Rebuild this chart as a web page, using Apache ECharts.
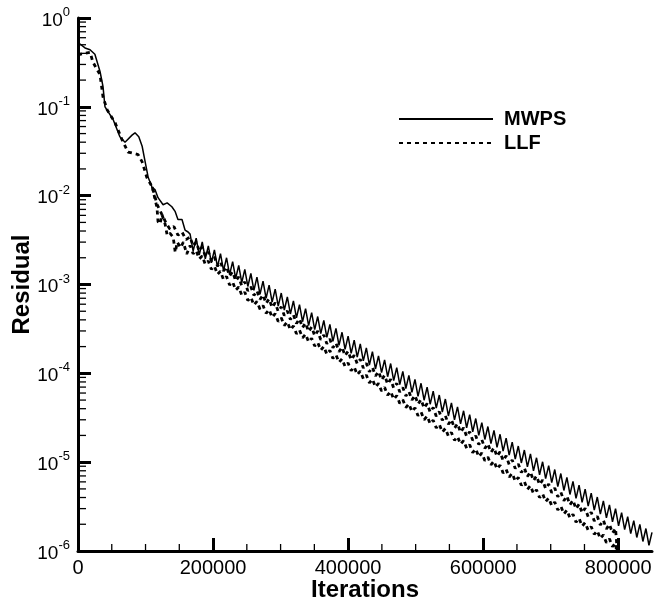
<!DOCTYPE html>
<html><head><meta charset="utf-8">
<script src="https://cdn.jsdelivr.net/npm/echarts@6/dist/echarts.min.js"></script>
<style>html,body{margin:0;padding:0;background:#fff}#c{width:655px;height:601px}</style>
</head><body><div id="c"></div>
<script>
// ---- data ----
const xTickValues = [0, 200000, 400000, 600000, 800000];
const xMinorTickValues = [50000,100000,150000,250000,300000,350000,450000,500000,550000,650000,700000,750000];
const yDecades = [1e-6, 1e-5, 1e-4, 1e-3, 1e-2, 1e-1];
const yMinorMultipliers = [2,3,4,5,6,7,8,9];

const mwpsEarlyIter = [0,10400,17800,25000,32600,37000,40000,52000,62000,69600,80000,84400,90000,95000,99000,104000,110000,114000,118500,126000,132000,139000,144000,148000,154000,158500,163000];
const mwpsEarlyVal  = [0.53,0.46,0.44,0.39,0.25,0.17,0.10,0.072,0.046,0.040,0.048,0.051,0.046,0.036,0.025,0.016,0.0123,0.0117,0.0095,0.0079,0.0083,0.0075,0.0066,0.0054,0.0054,0.0041,0.0039];

const llfEarlyIter = [0,3000,18000,22000,32600,37000,43000,55000,65000,74000,81500,89000,95000,102000,110000];
const llfEarlyVal  = [0.39,0.39,0.41,0.32,0.23,0.13,0.093,0.066,0.043,0.031,0.030,0.029,0.024,0.016,0.0125];
const llfAMidIter = [117000,124000,130000,136000,142000,148000,154000,160000];
const llfAMidVal  = [0.0080,0.0062,0.0050,0.0042,0.0045,0.0036,0.0039,0.0032];
const llfBEarlyIter = [110000,117000,118500,121500,124400,129000,132000,136000,141000,144000,147000,152000,156000,161000];
const llfBEarlyVal  = [0.0125,0.0073,0.0051,0.0048,0.0061,0.0048,0.0036,0.0038,0.0034,0.0023,0.0030,0.0026,0.0030,0.0022];
const llfTailIter = [799000];
const llfATailVal = [9e-7];
const llfBTailVal = [8e-7];

const oscIter = [
166000,170500,175000,179500,184000,188500,193000,197500,202000,206500,
211000,215500,220000,224500,229000,233500,238000,242500,247000,251500,
256000,260500,265000,269500,274000,278500,283000,287500,292000,296500,
301000,305500,310000,314500,319000,323500,328000,332500,337000,341500,
346000,350500,355000,359500,364000,368500,373000,377500,382000,386500,
391000,395500,400000,404500,409000,413500,418000,422500,427000,431500,
436000,440500,445000,449500,454000,458500,463000,467500,472000,476500,
481000,485500,490000,494500,499000,503500,508000,512500,517000,521500,
526000,530500,535000,539500,544000,548500,553000,557500,562000,566500,
571000,575500,580000,584500,589000,593500,598000,602500,607000,611500,
616000,620500,625000,629500,634000,638500,643000,647500,652000,656500,
661000,665500,670000,674500,679000,683500,688000,692500,697000,701500,
706000,710500,715000,719500,724000,728500,733000,737500,742000,746500,
751000,755500,760000,764500,769000,773500,778000,782500,787000,791500,
796000,800500,805000,809500,814000,818500,823000,827500,832000,836500,
841000,845500,850000];

const mwpsOscVal = [
3.69e-3,2.38e-3,3.33e-3,2.15e-3,3.01e-3,1.94e-3,2.72e-3,1.75e-3,2.45e-3,1.58e-3,
2.22e-3,1.43e-3,2.00e-3,1.29e-3,1.81e-3,1.17e-3,1.64e-3,1.05e-3,1.48e-3,9.5e-4,
1.33e-3,8.58e-4,1.21e-3,7.76e-4,1.09e-3,7.01e-4,9.84e-4,6.34e-4,8.87e-4,5.71e-4,
8.02e-4,5.16e-4,7.24e-4,4.66e-4,6.55e-4,4.22e-4,5.92e-4,3.81e-4,5.35e-4,3.44e-4,
4.82e-4,3.11e-4,4.36e-4,2.80e-4,3.94e-4,2.54e-4,3.56e-4,2.29e-4,3.21e-4,2.07e-4,
2.90e-4,1.86e-4,2.62e-4,1.68e-4,2.37e-4,1.52e-4,2.14e-4,1.38e-4,1.93e-4,1.24e-4,
1.75e-4,1.12e-4,1.57e-4,1.02e-4,1.42e-4,9.16e-5,1.29e-4,8.27e-5,1.16e-4,7.48e-5,
1.05e-4,6.75e-5,9.48e-5,6.10e-5,8.55e-5,5.51e-5,7.73e-5,4.98e-5,6.98e-5,4.49e-5,
6.31e-5,4.07e-5,5.70e-5,3.67e-5,5.14e-5,3.31e-5,4.65e-5,2.99e-5,4.20e-5,2.70e-5,
3.79e-5,2.44e-5,3.43e-5,2.20e-5,3.10e-5,2.00e-5,2.79e-5,1.80e-5,2.52e-5,1.62e-5,
2.28e-5,1.47e-5,2.06e-5,1.33e-5,1.86e-5,1.20e-5,1.68e-5,1.08e-5,1.52e-5,9.79e-6,
1.37e-5,8.84e-6,1.24e-5,7.98e-6,1.12e-5,7.21e-6,1.01e-5,6.52e-6,9.14e-6,5.88e-6,
8.26e-6,5.30e-6,7.45e-6,4.80e-6,6.73e-6,4.33e-6,6.08e-6,3.91e-6,5.50e-6,3.53e-6,
4.97e-6,3.20e-6,4.48e-6,2.88e-6,4.05e-6,2.60e-6,3.66e-6,2.36e-6,3.30e-6,2.13e-6,
2.99e-6,1.92e-6,2.70e-6,1.74e-6,2.43e-6,1.57e-6,2.20e-6,1.42e-6,1.99e-6,1.28e-6,
1.79e-6,1.16e-6,1.62e-6];

const llfAOscVal = [
3.43e-3,2.70e-3,3.01e-3,2.38e-3,2.65e-3,2.09e-3,2.33e-3,1.84e-3,2.05e-3,1.61e-3,
1.80e-3,1.42e-3,1.58e-3,1.25e-3,1.39e-3,1.10e-3,1.22e-3,9.64e-4,1.07e-3,8.47e-4,
9.44e-4,7.54e-4,8.51e-4,6.79e-4,7.66e-4,6.12e-4,6.90e-4,5.51e-4,6.22e-4,4.97e-4,
5.60e-4,4.47e-4,5.05e-4,4.03e-4,4.55e-4,3.63e-4,4.10e-4,3.27e-4,3.69e-4,2.95e-4,
3.32e-4,2.65e-4,2.99e-4,2.39e-4,2.70e-4,2.15e-4,2.43e-4,1.94e-4,2.19e-4,1.75e-4,
1.97e-4,1.58e-4,1.78e-4,1.42e-4,1.60e-4,1.28e-4,1.44e-4,1.15e-4,1.30e-4,1.04e-4,
1.17e-4,9.35e-5,1.05e-4,8.42e-5,9.50e-5,7.59e-5,8.56e-5,6.83e-5,7.71e-5,6.16e-5,
6.94e-5,5.55e-5,6.26e-5,5.00e-5,5.64e-5,4.50e-5,5.08e-5,4.06e-5,4.57e-5,3.65e-5,
4.12e-5,3.29e-5,3.71e-5,2.96e-5,3.34e-5,2.67e-5,3.01e-5,2.41e-5,2.71e-5,2.17e-5,
2.44e-5,1.95e-5,2.20e-5,1.76e-5,1.98e-5,1.58e-5,1.79e-5,1.43e-5,1.61e-5,1.29e-5,
1.45e-5,1.16e-5,1.31e-5,1.04e-5,1.18e-5,9.40e-6,1.06e-5,8.47e-6,9.56e-6,7.63e-6,
8.61e-6,6.88e-6,7.76e-6,6.19e-6,6.99e-6,5.58e-6,6.30e-6,5.03e-6,5.67e-6,4.53e-6,
5.11e-6,4.08e-6,4.60e-6,3.67e-6,4.15e-6,3.31e-6,3.73e-6,2.98e-6,3.37e-6,2.69e-6,
3.03e-6,2.42e-6,2.73e-6,2.18e-6,2.46e-6,1.96e-6,2.22e-6,1.77e-6,2.00e-6,1.59e-6,
1.80e-6];

const llfBOscVal = [
2.75e-3,2.22e-3,2.41e-3,1.94e-3,2.10e-3,1.69e-3,1.84e-3,1.48e-3,1.61e-3,1.30e-3,
1.41e-3,1.13e-3,1.23e-3,9.89e-4,1.07e-3,8.65e-4,9.39e-4,7.56e-4,8.21e-4,6.61e-4,
7.18e-4,5.86e-4,6.45e-4,5.27e-4,5.80e-4,4.74e-4,5.22e-4,4.26e-4,4.69e-4,3.83e-4,
4.22e-4,3.45e-4,3.80e-4,3.10e-4,3.41e-4,2.79e-4,3.07e-4,2.51e-4,2.76e-4,2.25e-4,
2.48e-4,2.03e-4,2.23e-4,1.82e-4,2.01e-4,1.64e-4,1.81e-4,1.47e-4,1.62e-4,1.33e-4,
1.46e-4,1.19e-4,1.31e-4,1.07e-4,1.18e-4,9.64e-5,1.06e-4,8.67e-5,9.55e-5,7.80e-5,
8.59e-5,7.01e-5,7.73e-5,6.31e-5,6.95e-5,5.67e-5,6.25e-5,5.10e-5,5.62e-5,4.59e-5,
5.05e-5,4.12e-5,4.54e-5,3.71e-5,4.09e-5,3.34e-5,3.67e-5,3.00e-5,3.30e-5,2.70e-5,
2.97e-5,2.43e-5,2.67e-5,2.18e-5,2.40e-5,1.96e-5,2.16e-5,1.76e-5,1.94e-5,1.59e-5,
1.75e-5,1.43e-5,1.57e-5,1.28e-5,1.41e-5,1.15e-5,1.27e-5,1.04e-5,1.14e-5,9.33e-6,
1.03e-5,8.39e-6,9.24e-6,7.55e-6,8.31e-6,6.79e-6,7.48e-6,6.10e-6,6.72e-6,5.49e-6,
6.05e-6,4.94e-6,5.44e-6,4.44e-6,4.89e-6,3.99e-6,4.40e-6,3.59e-6,3.96e-6,3.23e-6,
3.56e-6,2.90e-6,3.20e-6,2.61e-6,2.88e-6,2.35e-6,2.59e-6,2.11e-6,2.33e-6,1.90e-6,
2.09e-6,1.71e-6,1.88e-6,1.54e-6,1.69e-6,1.38e-6,1.52e-6,1.24e-6,1.37e-6,1.12e-6,
1.23e-6];

// ---- build ----
function pairs(xs, ys){ return ys.map((y, i) => [xs[i], y]); }
const mwpsData = pairs(mwpsEarlyIter, mwpsEarlyVal).concat(pairs(oscIter, mwpsOscVal));
const llfAData = pairs(llfEarlyIter, llfEarlyVal).concat(pairs(llfAMidIter, llfAMidVal), pairs(oscIter, llfAOscVal), pairs(llfTailIter, llfATailVal));
const llfBData = pairs(llfBEarlyIter, llfBEarlyVal).concat(pairs(oscIter, llfBOscVal), pairs(llfTailIter, llfBTailVal));

const tickData = [];
yDecades.forEach(d => yMinorMultipliers.forEach(m => tickData.push([0, m * d, 0])));
xMinorTickValues.forEach(v => tickData.push([v, 1e-6, 1]));

const FONT = "'Liberation Sans', Arial, Helvetica, sans-serif";
const chart = echarts.init(document.getElementById('c'), null, {renderer: 'canvas'});
chart.setOption({
  animation: false,
  backgroundColor: '#fff',
  grid: {left: 78, right: 3, top: 18, bottom: 50, containLabel: false, outerBoundsMode: 'none'},
  legend: {
    data: ['MWPS', 'LLF'], orient: 'vertical', left: 393, top: 104,
    itemWidth: 94, itemHeight: 14, itemGap: 4,
    itemStyle: {opacity: 0},
    textStyle: {fontFamily: FONT, fontSize: 20, fontWeight: 'bold', color: '#000', lineHeight: 20, padding: [0, 0, 0, 6]}
  },
  xAxis: {
    type: 'value', min: 0, max: 850000,
    name: 'Iterations', nameLocation: 'middle', nameGap: 27, nameMoveOverlap: false,
    nameTextStyle: {fontFamily: FONT, fontSize: 24, fontWeight: 'bold', color: '#000'},
    axisLine: {show: true, onZero: false, lineStyle: {color: '#000', width: 3}},
    axisTick: {show: true, inside: true, length: 13, customValues: xTickValues, lineStyle: {color: '#000', width: 3}},
    axisLabel: {customValues: xTickValues, margin: 7, fontFamily: FONT, fontSize: 20, color: '#000', formatter: v => String(v)},
    splitLine: {show: false}
  },
  yAxis: {
    type: 'log', logBase: 10, min: 1e-6, max: 1,
    name: 'Residual', nameLocation: 'middle', nameGap: 44, nameMoveOverlap: false,
    nameTextStyle: {fontFamily: FONT, fontSize: 24, fontWeight: 'bold', color: '#000'},
    axisLine: {show: true, onZero: false, lineStyle: {color: '#000', width: 3}},
    axisTick: {show: true, inside: true, length: 13, lineStyle: {color: '#000', width: 3}},
    axisLabel: {
      margin: 8,
      formatter: v => '{b|10}{s|' + Math.round(Math.log10(v)) + '}',
      rich: {
        b: {fontFamily: FONT, fontSize: 19, color: '#000', lineHeight: 24, verticalAlign: 'bottom', padding: [3, 0, 0, 0]},
        s: {fontFamily: FONT, fontSize: 13, color: '#000', lineHeight: 14, verticalAlign: 'top'}
      }
    },
    splitLine: {show: false}
  },
  series: [
    {name: 'MWPS', type: 'line', data: mwpsData, symbol: 'none', showSymbol: false, z: 3,
     lineStyle: {color: '#000', width: 1.5}, itemStyle: {color: '#000'}},
    {name: 'LLF', type: 'line', data: llfAData, symbol: 'none', showSymbol: false, z: 2,
     lineStyle: {color: '#000', width: 2.8, type: [4, 4]}, itemStyle: {color: '#000'}},
    {name: 'LLF', type: 'line', data: llfBData, symbol: 'none', showSymbol: false, z: 2,
     lineStyle: {color: '#000', width: 2.8, type: [4, 4]}, itemStyle: {color: '#000'}},
    {name: 'minorTicks', type: 'custom', data: tickData, silent: true, z: 5, clip: false,
     renderItem: (params, api) => {
       const p = api.coord([api.value(0), api.value(1)]);
       const horiz = api.value(2) === 0;
       return {type: 'line',
         shape: horiz ? {x1: p[0], y1: p[1], x2: p[0] + 8, y2: p[1]} : {x1: p[0], y1: p[1], x2: p[0], y2: p[1] - 7},
         style: {stroke: '#000', lineWidth: 1.3}};
     }}
  ]
});
</script>
</body></html>
